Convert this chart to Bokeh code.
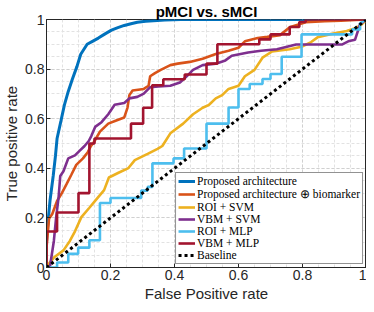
from bokeh.plotting import figure
from bokeh.models import Range1d, FixedTicker, CustomJSTickFormatter, Legend, LegendItem
from bokeh.embed import file_html
from bokeh.resources import INLINE

# ---- data (FPR, TPR) ----
fpr_prop = [0, 0, 0.003, 0.011, 0.021, 0.028, 0.033, 0.045, 0.056, 0.068, 0.081, 0.095, 0.107,
            0.127, 0.145, 0.162, 0.183, 0.203, 0.223, 0.243, 0.264, 0.284, 0.31, 0.334, 0.37,
            0.42, 0.6, 0.8, 1.0]
tpr_prop = [0, 0.10, 0.16, 0.27, 0.37, 0.45, 0.52, 0.59, 0.656, 0.71, 0.76, 0.81, 0.86,
            0.90, 0.913, 0.925, 0.942, 0.957, 0.967, 0.976, 0.983, 0.989, 0.993, 0.995, 0.998,
            1.0, 1.0, 1.0, 1.0]

fpr_bio = [0, 0, 0.008, 0.018, 0.033, 0.048, 0.063, 0.078, 0.093, 0.114, 0.129, 0.139, 0.147,
           0.167, 0.193, 0.218, 0.243, 0.253, 0.259, 0.269, 0.304, 0.319, 0.324, 0.339, 0.357,
           0.387, 0.41, 0.448, 0.488, 0.529, 0.569, 0.6, 0.62, 0.66, 0.69, 0.73, 0.76, 0.81,
           0.87, 0.92, 1.0]
tpr_bio = [0, 0.08, 0.197, 0.216, 0.268, 0.30, 0.337, 0.375, 0.414, 0.44, 0.465, 0.49, 0.503,
           0.548, 0.58, 0.593, 0.605, 0.644, 0.695, 0.714, 0.72, 0.733, 0.771, 0.784, 0.797,
           0.816, 0.822, 0.829, 0.842, 0.861, 0.874, 0.886, 0.912, 0.925, 0.93, 0.937, 0.969,
           0.989, 0.993, 0.995, 1.0]

fpr_roi_svm = [0, 0.01, 0.023, 0.053, 0.073, 0.089, 0.109, 0.134, 0.159, 0.18, 0.195, 0.225,
               0.256, 0.276, 0.316, 0.347, 0.362, 0.387, 0.427, 0.458, 0.488, 0.508, 0.529,
               0.549, 0.569, 0.6, 0.62, 0.65, 0.675, 0.705, 0.76, 0.797, 0.827, 0.847, 0.888,
               0.938, 0.969, 0.985, 1.0]
tpr_roi_svm = [0, 0.02, 0.04, 0.069, 0.107, 0.146, 0.203, 0.241, 0.28, 0.312, 0.363, 0.382,
               0.401, 0.433, 0.458, 0.478, 0.49, 0.541, 0.58, 0.618, 0.644, 0.656, 0.682,
               0.695, 0.72, 0.733, 0.771, 0.797, 0.846, 0.871, 0.88, 0.89, 0.909, 0.928, 0.941,
               0.954, 0.967, 0.98, 1.0]

fpr_vbm_svm = [0, 0.011, 0.023, 0.03, 0.038, 0.043, 0.053, 0.068, 0.089, 0.104, 0.119, 0.132,
               0.14, 0.152, 0.172, 0.193, 0.213, 0.243, 0.259, 0.284, 0.304, 0.324, 0.35,
               0.387, 0.417, 0.438, 0.458, 0.488, 0.529, 0.559, 0.579, 0.63, 0.67, 0.72, 0.78,
               0.923, 0.943, 0.964, 0.974, 0.98, 1.0]
tpr_vbm_svm = [0, 0.005, 0.107, 0.2, 0.286, 0.369, 0.388, 0.44, 0.452, 0.471, 0.49, 0.51,
               0.53, 0.567, 0.586, 0.618, 0.656, 0.663, 0.682, 0.688, 0.701, 0.727, 0.73,
               0.733, 0.746, 0.771, 0.797, 0.816, 0.822, 0.835, 0.854, 0.867, 0.874, 0.88,
               0.899, 0.899, 0.912, 0.918, 0.957, 0.982, 1.0]

fpr_roi_mlp = [0, 0.033, 0.033, 0.068, 0.068, 0.099, 0.099, 0.134, 0.134, 0.167, 0.167, 0.2,
               0.2, 0.296, 0.296, 0.316, 0.316, 0.331, 0.331, 0.397, 0.397, 0.43, 0.43, 0.5,
               0.5, 0.569, 0.569, 0.6, 0.6, 0.635, 0.635, 0.675, 0.675, 0.70, 0.70, 0.735,
               0.735, 0.797, 0.797, 0.955, 0.955, 0.98, 0.98, 1.0]
tpr_roi_mlp = [0, 0, 0.02, 0.02, 0.055, 0.055, 0.08, 0.08, 0.11, 0.11, 0.26, 0.26, 0.28, 0.28,
               0.31, 0.31, 0.325, 0.325, 0.42, 0.42, 0.44, 0.44, 0.48, 0.48, 0.58, 0.58, 0.645,
               0.645, 0.72, 0.72, 0.74, 0.74, 0.76, 0.76, 0.78, 0.78, 0.85, 0.85, 0.94, 0.94,
               0.96, 0.96, 0.985, 1.0]

fpr_vbm_mlp = [0, 0, 0.033, 0.033, 0.10, 0.10, 0.134, 0.134, 0.15, 0.15, 0.264, 0.264, 0.302,
               0.302, 0.33, 0.33, 0.365, 0.365, 0.432, 0.432, 0.5, 0.5, 0.534, 0.534, 0.665,
               0.665, 0.70, 0.70, 0.76, 0.76, 0.79, 0.79, 0.81, 0.81, 1.0]
tpr_vbm_mlp = [0, 0.145, 0.145, 0.222, 0.222, 0.30, 0.30, 0.50, 0.50, 0.52, 0.52, 0.58, 0.58,
               0.644, 0.644, 0.735, 0.735, 0.759, 0.759, 0.778, 0.778, 0.822, 0.822, 0.90,
               0.90, 0.92, 0.92, 0.94, 0.94, 0.97, 0.97, 0.99, 0.99, 1.0, 1.0]

fpr_base = [0, 1]
tpr_base = [0, 1]

labels = ["Proposed architecture", "Proposed architecture \u2295 biomarker", "ROI + SVM",
          "VBM + SVM", "ROI + MLP", "VBM + MLP", "Baseline"]
colors = ["#0072BD", "#D95319", "#EDB120", "#7E2F8E", "#4DBEEE", "#A2142F", "#000000"]
tick_values = [0, 0.2, 0.4, 0.6, 0.8, 1.0]
minor_values = [i * 0.05 for i in range(21)]

series = [(fpr_prop, tpr_prop), (fpr_bio, tpr_bio), (fpr_roi_svm, tpr_roi_svm),
          (fpr_vbm_svm, tpr_vbm_svm), (fpr_roi_mlp, tpr_roi_mlp), (fpr_vbm_mlp, tpr_vbm_mlp)]

p = figure(width=366, height=304, output_backend="svg", toolbar_location=None,
           x_range=Range1d(0, 1), y_range=Range1d(0, 1),
           min_border_left=0, min_border_right=0, min_border_top=0, min_border_bottom=0,
           title="pMCI vs. sMCI")

p.title.align = "center"
p.title.text_font = "Liberation Sans"
p.title.text_font_size = "15px"
p.title.text_font_style = "bold"
p.title.text_color = "#000000"
p.title.offset = 0
p.title.standoff = 0

for ax in (p.xaxis[0], p.yaxis[0]):
    ax.ticker = FixedTicker(ticks=tick_values, minor_ticks=minor_values)
    ax.formatter = CustomJSTickFormatter(code="return (Math.round(tick*10)/10).toString();")
    ax.major_label_text_font = "Liberation Sans"
    ax.major_label_text_font_size = "14px"
    ax.major_label_text_color = "#262626"
    ax.axis_label_text_font = "Liberation Sans"
    ax.axis_label_text_font_size = "15px"
    ax.axis_label_text_font_style = "normal"
    ax.axis_label_text_color = "#262626"
    ax.axis_line_color = "#262626"
    ax.major_tick_in = 4
    ax.major_tick_out = 0
    ax.minor_tick_in = 0
    ax.minor_tick_out = 0
    ax.major_tick_line_color = "#262626"
    ax.major_label_standoff = 2
    ax.axis_label_standoff = 2

p.xaxis.axis_label = "False Positive rate"
p.yaxis.axis_label = "True positive rate"

p.outline_line_color = "#262626"
p.outline_line_width = 1

for g in (p.xgrid[0], p.ygrid[0]):
    g.ticker = FixedTicker(ticks=tick_values, minor_ticks=minor_values)
    g.grid_line_color = "#d0d0d0"
    g.grid_line_dash = "3 2"
    g.grid_line_width = 1
    g.minor_grid_line_color = "#e2e2e2"
    g.minor_grid_line_dash = "3 2"
    g.minor_grid_line_width = 1

renderers = []
for i, (xs, ys) in enumerate(series):
    r = p.line(xs, ys, line_color=colors[i], line_width=3 if i == 0 else 2.6)
    renderers.append(r)
rb = p.line(fpr_base, tpr_base, line_color="#000000", line_width=3, line_dash="3 3")
renderers.append(rb)

legend = Legend(items=[LegendItem(label=labels[i], renderers=[renderers[i]]) for i in range(7)])
legend.location = "bottom_right"
legend.margin = 3
legend.padding = 2
legend.spacing = 0
legend.glyph_width = 17
legend.glyph_height = 12
legend.label_height = 12
legend.label_standoff = 2
legend.label_text_font = "Liberation Serif"
legend.label_text_font_size = "11.5px"
legend.label_text_color = "#000000"
legend.border_line_color = "#262626"
legend.border_line_width = 1
legend.background_fill_alpha = 1.0
p.add_layout(legend, "center")

open("out.html", "w").write(file_html(p, INLINE))
